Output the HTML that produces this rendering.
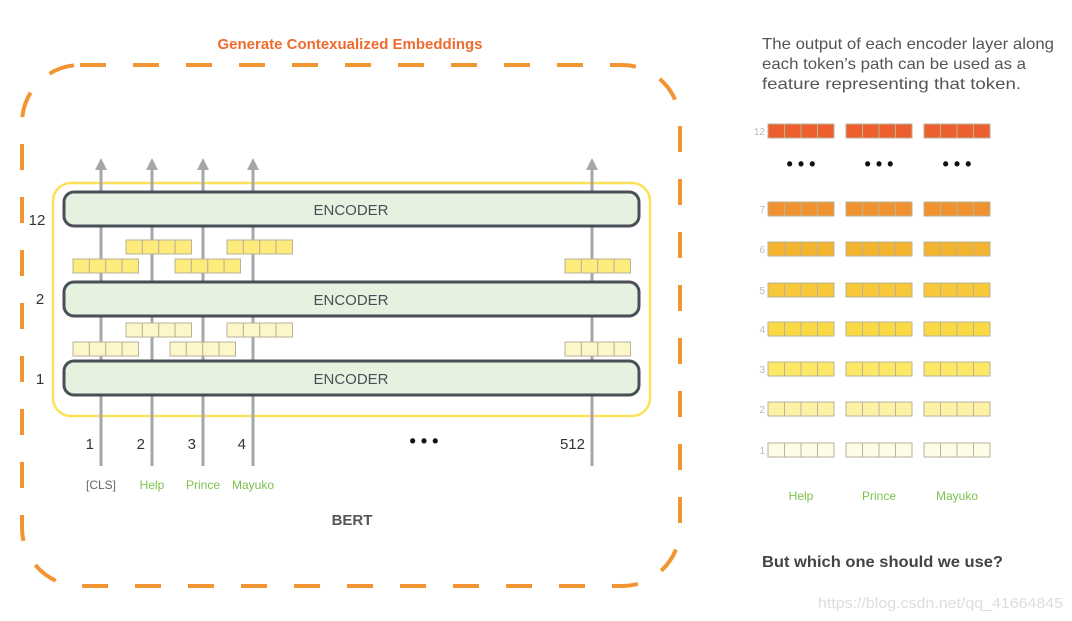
<!DOCTYPE html>
<html><head><meta charset="utf-8"><style>
html,body{margin:0;padding:0;background:#fff;}
svg{display:block;font-family:"Liberation Sans",sans-serif;}
</style></head><body>
<svg id="s" width="1072" height="621" viewBox="0 0 1072 621" xmlns="http://www.w3.org/2000/svg">
<text x="350" y="49" text-anchor="middle" font-size="15" font-weight="bold" fill="#ee6b2f">Generate Contexualized Embeddings</text>
<rect x="22" y="65" width="658" height="521" rx="58" fill="none" stroke="#f39433" stroke-width="4" stroke-dasharray="26 27"/>
<rect x="53" y="183" width="597" height="233" rx="18" fill="none" stroke="#fde05a" stroke-width="2.5"/>
<g id="arrows"></g>
<g id="enc"></g>
<g id="lboxes"></g>
<text x="37" y="225" text-anchor="middle" font-size="15" fill="#333">12</text>
<text x="40" y="304" text-anchor="middle" font-size="15" fill="#333">2</text>
<text x="40" y="384" text-anchor="middle" font-size="15" fill="#333">1</text>
<g id="pos"></g>
<text x="424" y="447" text-anchor="middle" font-size="18" font-weight="bold" fill="#111">• • •</text>
<g id="tok"></g>
<text x="352" y="525" text-anchor="middle" font-size="15" font-weight="bold" fill="#555">BERT</text>
<g fill="#555" font-size="16">
<text x="762" y="49" textLength="292" lengthAdjust="spacingAndGlyphs">The output of each encoder layer along</text>
<text x="762" y="69" textLength="264" lengthAdjust="spacingAndGlyphs">each token’s path can be used as a</text>
<text x="762" y="89" textLength="259" lengthAdjust="spacingAndGlyphs">feature representing that token.</text>
</g>
<g id="rboxes"></g>
<g id="rtok"></g>
<text x="762" y="567" font-size="16" font-weight="bold" fill="#444" textLength="241" lengthAdjust="spacingAndGlyphs">But which one should we use?</text>
<text x="1063" y="608" text-anchor="end" font-size="15" fill="#ddd" textLength="245" lengthAdjust="spacingAndGlyphs">https://blog.csdn.net/qq_41664845</text>
</svg>
<script>
const NS="http://www.w3.org/2000/svg";
const arrowX=[101,152,203,253,592];
const encoderYs=[192,282,361];
const encoderLabels=["ENCODER","ENCODER","ENCODER"];
const posLabels=["1","2","3","4","512"];
const tokens=["[CLS]","Help","Prince","Mayuko"];
const tokenColors=["#666","#7cc24f","#7cc24f","#7cc24f"];
const leftTop=[[126,240],[227,240],[73,259],[175,259],[565,259]];
const leftBot=[[126,323],[227,323],[73,342],[170,342],[565,342]];
const rowLayers=["12","7","6","5","4","3","2","1"];
const rowY=[131,209,249,290,329,369,409,450];
const rowColors=["#ec5f2f","#f0922f","#f5b42f","#f8c83a","#fbd944","#fde865","#fdf1a6","#fefbe6"];
const rTokens=["Help","Prince","Mayuko"];
const rX=[768,846,924];
function el(t,a,p){const e=document.createElementNS(NS,t);for(const k in a)e.setAttribute(k,a[k]);p.appendChild(e);return e;}
const g=id=>document.getElementById(id);
arrowX.forEach((x,i)=>{
 const l=el('line',{x1:x,y1:466,x2:x,y2:168,stroke:'#a5a8a8','stroke-width':3},g('arrows'));
 
 
 const h=el('polygon',{points:`${x-6},170 ${x+6},170 ${x},158`,fill:'#a5a8a8'},g('arrows'));
 
 
});
encoderYs.forEach((y,i)=>{
 const r=el('rect',{x:64,y:y,width:575,height:34,rx:10,fill:'#e6f2e0',stroke:'#4a4f57','stroke-width':3},g('enc'));
 
 
 const t=el('text',{x:351,y:y+23,'text-anchor':'middle','font-size':15,fill:'#4a4f57'},g('enc'));
 t.textContent=encoderLabels[i];
 
 
});
function vec(x,y,w,h,fill,parent){
 const cw=w/4;
 for(let k=0;k<4;k++){
  const c=el('rect',{x:x+k*cw,y:y,width:cw,height:h,fill:fill,stroke:'#b8b39a','stroke-width':1},parent);
  
  
 }
}
leftTop.forEach(p=>vec(p[0],p[1],65.5,14,'#fdec7c',g('lboxes')));
leftBot.forEach(p=>vec(p[0],p[1],65.5,14,'#fdf6c8',g('lboxes')));
posLabels.forEach((s,i)=>{
 const t=el('text',{x:arrowX[i]-7,y:449,'text-anchor':'end','font-size':15,fill:'#333'},g('pos'));
 t.textContent=s;
 
 
});
tokens.forEach((s,i)=>{
 const t=el('text',{x:arrowX[i],y:489,'text-anchor':'middle','font-size':12,fill:tokenColors[i]},g('tok'));
 t.textContent=s;
 
 
});
rowLayers.forEach((s,i)=>{
 const t=el('text',{x:765,y:rowY[i]+4,'text-anchor':'end','font-size':10,fill:'#bbb'},g('rboxes'));
 t.textContent=s;
 
 
 rX.forEach(x=>vec(x,rowY[i]-7,66,14,rowColors[i],g('rboxes')));
});
rX.forEach(x=>{
 const t=el('text',{x:x+33,y:170,'text-anchor':'middle','font-size':18,'font-weight':'bold',fill:'#111'},g('rboxes'));
 t.textContent='• • •';
 
 
});
rTokens.forEach((s,i)=>{
 const t=el('text',{x:rX[i]+33,y:500,'text-anchor':'middle','font-size':12,fill:'#7cc24f'},g('rtok'));
 t.textContent=s;
 
 
});
</script>
</body></html>
